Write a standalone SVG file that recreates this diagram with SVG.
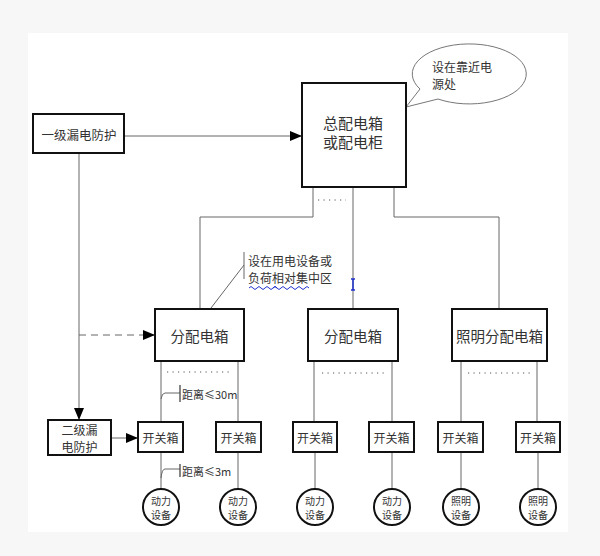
<svg xmlns="http://www.w3.org/2000/svg" width="600" height="556" viewBox="0 0 600 556">
<style>
.bx{fill:#fff;stroke:#111;stroke-width:2}
.ln{fill:none;stroke:#666;stroke-width:1}
.dot{fill:none;stroke:#555;stroke-width:1;stroke-dasharray:1.2 4.3}
.t{font-family:"Noto Sans CJK SC","Liberation Sans",sans-serif;fill:#333;text-anchor:middle;dominant-baseline:central}
.tl{font-family:"Noto Sans CJK SC","Liberation Sans",sans-serif;fill:#333;dominant-baseline:central}
</style>
<defs>
<marker id="ah" viewBox="0 0 12 10" refX="12" refY="5" markerWidth="12" markerHeight="10" markerUnits="userSpaceOnUse" orient="auto">
<path d="M0,0 L12,5 L0,10 Z" fill="#000"/>
</marker>
</defs>
<rect x="0" y="0" width="600" height="556" fill="#f7f7f7"/>
<rect x="28" y="33" width="540" height="499" fill="#fff"/>

<g id="connectors">
<line class="ln" x1="124" y1="136" x2="302" y2="136" marker-end="url(#ah)"/>
<line class="ln" x1="79" y1="153" x2="79" y2="420" marker-end="url(#ah)"/>
<line class="ln" x1="79" y1="335" x2="155" y2="335" stroke-dasharray="7 5" marker-end="url(#ah)"/>
<line class="ln" x1="111" y1="438" x2="138" y2="438" marker-end="url(#ah)"/>
<polyline class="ln" points="313,187 313,217 200,217 200,309"/>
<line class="ln" x1="353" y1="187" x2="353" y2="309"/>
<polyline class="ln" points="394,187 394,217 499,217 499,309"/>
<line class="dot" x1="318" y1="200" x2="346" y2="200"/>
<line class="ln" x1="161" y1="361" x2="161" y2="422"/>
<line class="ln" x1="238" y1="361" x2="238" y2="422"/>
<line class="dot" x1="167" y1="372" x2="232" y2="372"/>
<line class="ln" x1="314" y1="361" x2="314" y2="422"/>
<line class="ln" x1="392" y1="361" x2="392" y2="422"/>
<line class="dot" x1="322" y1="373" x2="387" y2="373"/>
<line class="ln" x1="461" y1="361" x2="461" y2="422"/>
<line class="ln" x1="537" y1="361" x2="537" y2="422"/>
<line class="dot" x1="468" y1="373" x2="533" y2="373"/>
<line class="ln" x1="161" y1="452" x2="161" y2="489"/>
<line class="ln" x1="238" y1="452" x2="238" y2="489"/>
<line class="ln" x1="315" y1="452" x2="315" y2="489"/>
<line class="ln" x1="392" y1="452" x2="392" y2="489"/>
<line class="ln" x1="461" y1="452" x2="461" y2="489"/>
<line class="ln" x1="538" y1="452" x2="538" y2="489"/>
</g>

<g id="callout">
<path d="M406,107 L420,89 A57,30 0 1 1 438,99 Z" fill="#fff" stroke="#777" stroke-width="1"/>
<text class="tl" x="432" y="66" font-size="12">设在靠近电</text>
<text class="tl" x="432" y="83" font-size="12">源处</text>
</g>

<g id="annot-dist">
<line class="ln" x1="211" y1="308" x2="244" y2="265"/>
<line class="ln" x1="244" y1="252" x2="244" y2="279"/>
<text class="tl" x="248" y="260" font-size="12">设在用电设备或</text>
<text class="tl" x="248" y="277" font-size="12">负荷相对集中区</text>
<path d="M249,288 q2,-3 4,0 t4,0 t4,0 t4,0 t4,0 t4,0 t4,0 M273,288 q2,-3 4,0 t4,0 t4,0 t4,0 t4,0 t4,0 t4,0 t4,0 t4,0" fill="none" stroke="#2233cc" stroke-width="1"/>
<path d="M351,279 h4 M353,279 v11 M351,290 h4" fill="none" stroke="#2233cc" stroke-width="1.5"/>
</g>

<g id="annot-30m">
<path d="M161,399 Q162,393 165,393 L180,393" class="ln"/>
<line x1="180" y1="385" x2="180" y2="402" stroke="#444" stroke-width="1.3"/>
<text class="tl" x="182" y="394" font-size="11">距离≤30m</text>
</g>
<g id="annot-3m">
<path d="M161,478 Q162,469 165,469 L180,469" class="ln"/>
<line x1="180" y1="464" x2="180" y2="477" stroke="#444" stroke-width="1.3"/>
<text class="tl" x="182" y="471" font-size="11">距离≤3m</text>
</g>

<g id="n-l1">
<rect class="bx" x="33" y="114" width="91" height="39"/>
<text class="t" x="79" y="134" font-size="12.5">一级漏电防护</text>
</g>
<g id="n-main">
<rect class="bx" x="302" y="83" width="104" height="104"/>
<text class="t" x="353" y="122" font-size="15">总配电箱</text>
<text class="t" x="353" y="141" font-size="15">或配电柜</text>
</g>
<g id="n-d1">
<rect class="bx" x="155" y="309" width="89" height="52"/>
<text class="t" x="199.5" y="335" font-size="14.5">分配电箱</text>
</g>
<g id="n-d2">
<rect class="bx" x="308" y="309" width="90" height="52"/>
<text class="t" x="353" y="335" font-size="14.5">分配电箱</text>
</g>
<g id="n-d3">
<rect class="bx" x="452" y="309" width="95" height="52"/>
<text class="t" x="499.5" y="335" font-size="14.5">照明分配电箱</text>
</g>
<g id="n-l2">
<rect class="bx" x="48" y="420" width="63" height="35"/>
<text class="t" x="79.5" y="429.5" font-size="12">二级漏</text>
<text class="t" x="79.5" y="446" font-size="12">电防护</text>
</g>
<g id="n-s1"><rect class="bx" x="138" y="422" width="45" height="30"/><text class="t" x="160.5" y="437" font-size="12">开关箱</text></g>
<g id="n-s2"><rect class="bx" x="216" y="422" width="45" height="30"/><text class="t" x="238.5" y="437" font-size="12">开关箱</text></g>
<g id="n-s3"><rect class="bx" x="293" y="422" width="44" height="30"/><text class="t" x="315" y="437" font-size="12">开关箱</text></g>
<g id="n-s4"><rect class="bx" x="369" y="422" width="45" height="30"/><text class="t" x="391.5" y="437" font-size="12">开关箱</text></g>
<g id="n-s5"><rect class="bx" x="438" y="422" width="45" height="30"/><text class="t" x="460.5" y="437" font-size="12">开关箱</text></g>
<g id="n-s6"><rect class="bx" x="516" y="422" width="44" height="30"/><text class="t" x="538" y="437" font-size="12">开关箱</text></g>

<g id="n-e1"><circle class="bx" cx="161" cy="507" r="18"/><text class="t" x="161" y="500" font-size="10">动力</text><text class="t" x="161" y="514" font-size="10">设备</text></g>
<g id="n-e2"><circle class="bx" cx="238" cy="507" r="18"/><text class="t" x="238" y="500" font-size="10">动力</text><text class="t" x="238" y="514" font-size="10">设备</text></g>
<g id="n-e3"><circle class="bx" cx="315" cy="507" r="18"/><text class="t" x="315" y="500" font-size="10">动力</text><text class="t" x="315" y="514" font-size="10">设备</text></g>
<g id="n-e4"><circle class="bx" cx="392" cy="507" r="18"/><text class="t" x="392" y="500" font-size="10">动力</text><text class="t" x="392" y="514" font-size="10">设备</text></g>
<g id="n-e5"><circle class="bx" cx="461" cy="507" r="18"/><text class="t" x="461" y="500" font-size="10">照明</text><text class="t" x="461" y="514" font-size="10">设备</text></g>
<g id="n-e6"><circle class="bx" cx="538" cy="507" r="18"/><text class="t" x="538" y="500" font-size="10">照明</text><text class="t" x="538" y="514" font-size="10">设备</text></g>
</svg>
